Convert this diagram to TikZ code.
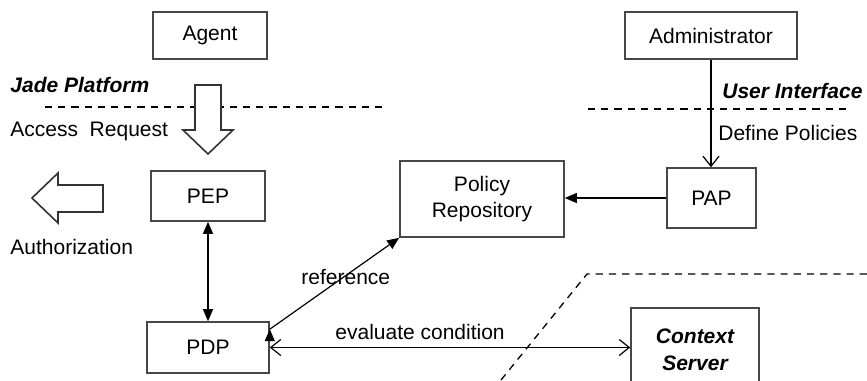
\documentclass[tikz,border=0pt]{standalone}
\usepackage{fontspec}
\setmainfont{Liberation Sans}
\usetikzlibrary{arrows.meta}
\begin{document}
\begin{tikzpicture}[x=0.5pt,y=-0.5pt,
  font=\fontsize{10.5pt}{12.6pt}\selectfont,
  box/.style={draw=black!72, line width=0.8pt, inner sep=0pt, align=center},
  conn/.style={draw=black, line width=0.6pt},
  boundary/.style={draw=black, line width=0.65pt, dash pattern=on 3.6pt off 3pt},
  hollow/.style={draw=black!80, line width=0.8pt, fill=white, line join=miter},
  lbl/.style={inner sep=0pt, anchor=west},
  zone/.style={lbl, font=\fontsize{10.5pt}{12.6pt}\selectfont\bfseries\itshape},
  filledtip/.style={-{Triangle[length=6pt,width=5pt]}},
  opentip/.style={-{Straight Barb[length=5pt,width=8pt]}}]
\useasboundingbox (0,0) rectangle (867,380);
\clip (0,0) rectangle (867,380);

% components
\node[box, minimum width=57pt, minimum height=23.5pt] (agent) at (210,35.5) {Agent};
\node[box, minimum width=57pt, minimum height=25pt] (pep) at (208,196) {PEP};
\node[box, minimum width=61pt, minimum height=25.5pt] (pdp) at (208,347.5) {PDP};
\node[box, minimum width=82pt, minimum height=38pt] (repo) at (482,199) {Policy\\Repository};
\node[box, minimum width=86pt, minimum height=23.5pt] (admin) at (711,35.5) {Administrator};
\node[box, minimum width=44.5pt, minimum height=30pt] (pap) at (711.5,198) {PAP};
\node[box, minimum width=64pt, minimum height=42pt, font=\fontsize{10.5pt}{13.5pt}\selectfont\bfseries\itshape] (ctx) at (695,350) {Context\\Server};

% zone boundaries
\draw[boundary] (45,107) -- (387,107);
\draw[boundary] (588,109) -- (848,109);
\coordinate (bend) at (587,274);
\draw[boundary] (501,380) -- (bend) -- (867,274);

% block arrows
\draw[hollow] (195,85) -- (221,85) -- (221,130) -- (233,130) -- (208,154)
  -- (183,130) -- (195,130) -- cycle;
\draw[hollow] (32,198) -- (58,173) -- (58,185) -- (103,185) -- (103,212)
  -- (58,212) -- (58,223) -- cycle;

% connectors
\draw[conn, {Triangle[length=6pt,width=5pt]}-{Triangle[length=6pt,width=5pt]}] (pep) -- (pdp);
\draw[conn, filledtip] (pdp.north east) ++(0,8) coordinate (refstart);
\draw[conn, filledtip] (refstart) -- (repo.south west);
\draw[conn, filledtip] (pap) -- (pap -| repo.east);
\draw[conn, opentip] (admin) -- (admin |- pap.north);
\draw[conn, {Straight Barb[length=5pt,width=8pt]}-{Straight Barb[length=5pt,width=8pt]}]
  (pdp.east) -- (pdp.east -| ctx.west);

% labels
\node[zone] (jade) at (10,85) {Jade Platform};
\node[lbl] (areq) at (10,131) {Access\ \ Request};
\node[lbl] (authz) at (10,247) {Authorization};
\node[lbl] (ref) at (301,277) {reference};
\node[lbl] (eval) at (335,332) {evaluate condition};
\node[zone] (ui) at (722,91) {User Interface};
\node[lbl] (defp) at (718,133) {Define Policies};
\end{tikzpicture}
\end{document}
